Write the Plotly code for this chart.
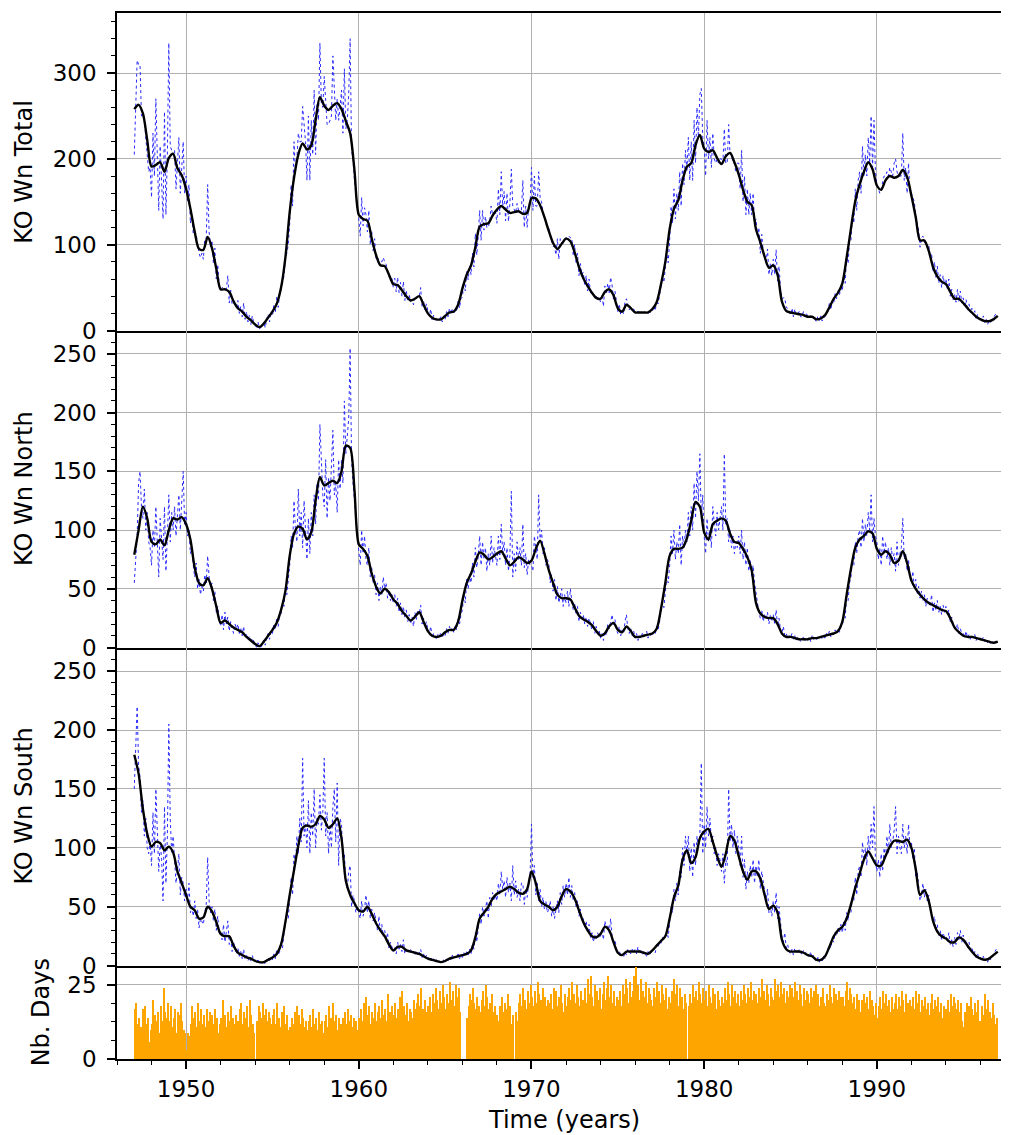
import plotly.graph_objects as go

START_YEAR = 1947

# ---- monthly raw values (Jan 1947 .. Dec 1996) ----
north_monthly = [
    55, 75, 95, 140, 150, 120, 110, 135, 100, 115, 90, 85,
    70, 100, 85, 120, 95, 60, 110, 90, 75, 120, 65, 95,
    130, 90, 115, 100, 120, 95, 110, 130, 100, 120, 150, 105,
    115, 95, 100, 80, 85, 70, 60, 72, 50, 58, 45, 52,
    48, 62, 55, 78, 60, 52, 55, 40, 48, 30, 35, 25,
    18, 28, 15, 30, 20, 26, 14, 22, 18, 12, 20, 16,
    20, 12, 16, 10, 18, 8, 12, 6, 10, 4, 8, 5,
    2, 0, 4, 1, 0, 3, 6, 2, 8, 12, 7, 14,
    12, 20, 15, 25, 18, 30, 28, 40, 35, 50, 45, 60,
    70, 95, 85, 125, 100, 90, 135, 95, 115, 85, 125, 100,
    75, 110, 80, 115, 95, 130, 105, 140, 125, 190, 150, 130,
    120, 160, 110, 145, 125, 150, 185, 130, 140, 115, 160, 135,
    160, 140, 210, 165, 180, 195, 255, 160, 140, 120, 110, 95,
    85, 70, 100, 80, 95, 75, 70, 85, 60, 68, 55, 62,
    45, 55, 40, 52, 45, 60, 50, 55, 42, 48, 40, 45,
    38, 45, 35, 42, 30, 38, 28, 35, 25, 32, 22, 28,
    20, 26, 18, 30, 24, 32, 28, 36, 20, 25, 18, 22,
    15, 12, 18, 8, 12, 10, 7, 11, 9, 13, 8, 12,
    10, 16, 12, 18, 14, 17, 13, 19, 15, 24, 20, 28,
    32, 45, 38, 58, 50, 62, 55, 72, 60, 85, 68, 78,
    95, 70, 90, 75, 85, 65, 80, 70, 95, 72, 85, 78,
    70, 95, 75, 105, 80, 90, 70, 85, 65, 78, 133, 60,
    80, 65, 90, 75, 85, 70, 105, 68, 80, 62, 75, 70,
    70, 65, 95, 85, 75, 130, 90, 100, 80, 85, 70, 75,
    72, 55, 62, 48, 58, 40, 52, 38, 45, 50, 35, 45,
    38, 48, 35, 50, 40, 32, 38, 28, 35, 22, 30, 25,
    28, 20, 26, 18, 25, 20, 15, 22, 12, 18, 10, 15,
    8, 12, 6, 14, 10, 20, 16, 22, 28, 18, 24, 15,
    12, 18, 10, 15, 12, 22, 28, 15, 12, 16, 10, 14,
    8, 12, 6, 10, 8, 12, 9, 11, 14, 8, 12, 10,
    10, 14, 12, 18, 15, 22, 30, 38, 34, 50, 60, 55,
    70, 95, 80, 100, 75, 90, 80, 105, 70, 95, 85, 100,
    90, 115, 95, 120, 100, 140, 110, 150, 125, 165, 110, 130,
    95, 80, 110, 90, 100, 85, 120, 105, 95, 115, 100, 110,
    120, 100, 165, 105, 110, 90, 100, 85, 95, 80, 90, 85,
    95, 80, 100, 75, 90, 70, 85, 65, 75, 60, 70, 55,
    45, 35, 30, 25, 32, 22, 28, 24, 30, 20, 28, 22,
    28, 20, 32, 18, 25, 15, 12, 18, 10, 12, 8, 10,
    8, 12, 7, 10, 6, 9, 8, 5, 7, 9, 6, 8,
    6, 9, 5, 10, 7, 8, 6, 10, 8, 11, 7, 9,
    8, 12, 10, 14, 9, 12, 11, 15, 12, 16, 13, 18,
    18, 28, 25, 45, 40, 55, 60, 75, 70, 90, 80, 95,
    100, 85, 110, 90, 105, 95, 115, 100, 130, 90, 110, 95,
    90, 75, 85, 70, 95, 80, 90, 75, 85, 70, 85, 75,
    80, 65, 90, 70, 80, 85, 110, 75, 80, 65, 75, 60,
    55, 65, 50, 58, 45, 52, 42, 48, 40, 45, 35, 42,
    40, 35, 45, 30, 38, 32, 40, 30, 35, 28, 36, 30,
    35, 28, 32, 22, 26, 20, 18, 15, 20, 12, 16, 12,
    12, 9, 14, 8, 11, 7, 10, 8, 11, 6, 9, 7,
    8, 6, 9, 5, 7, 4, 6, 3, 5, 4, 6, 5,
]

south_monthly = [
    150, 185, 220, 170, 160, 130, 140, 110, 125, 100, 95, 105,
    85, 130, 95, 150, 120, 80, 105, 90, 55, 135, 70, 110,
    205, 125, 95, 110, 90, 70, 80, 95, 60, 75, 70, 55,
    65, 55, 70, 45, 50, 42, 55, 40, 48, 32, 40, 38,
    35, 45, 52, 92, 55, 45, 50, 38, 48, 30, 42, 28,
    30, 22, 35, 20, 28, 38, 18, 25, 12, 20, 15, 10,
    15, 8, 12, 6, 14, 5, 10, 4, 8, 3, 9, 4,
    5, 2, 6, 1, 3, 2, 4, 1, 5, 7, 3, 8,
    5, 10, 6, 14, 9, 12, 20, 15, 28, 35, 45, 40,
    55, 75, 60, 95, 85, 110, 95, 125, 105, 176, 110, 120,
    100, 140, 95, 130, 110, 150, 100, 125, 120, 145, 115, 130,
    176, 110, 130, 95, 120, 100, 135, 150, 105, 155, 85, 125,
    120, 90, 95, 70, 65, 80, 85, 50, 60, 55, 45, 50,
    45, 40, 55, 42, 48, 60, 45, 55, 40, 48, 38, 45,
    38, 30, 42, 28, 35, 25, 30, 22, 28, 15, 20, 16,
    12, 16, 10, 20, 14, 18, 12, 22, 10, 15, 12, 14,
    14, 10, 12, 9, 13, 8, 11, 14, 7, 10, 6, 9,
    8, 5, 7, 4, 6, 3, 5, 2, 4, 3, 2, 5,
    3, 6, 4, 8, 5, 9, 6, 8, 7, 10, 6, 9,
    7, 11, 8, 12, 9, 14, 10, 18, 14, 28, 20, 32,
    45, 35, 50, 42, 48, 55, 40, 58, 50, 62, 55, 60,
    55, 70, 60, 80, 65, 72, 58, 75, 62, 70, 55, 85,
    60, 72, 58, 65, 55, 70, 70, 52, 65, 58, 70, 75,
    120, 75, 85, 60, 70, 55, 65, 50, 58, 48, 55, 45,
    48, 55, 42, 50, 40, 48, 55, 45, 62, 52, 68, 58,
    70, 60, 75, 58, 68, 55, 62, 50, 55, 42, 48, 40,
    40, 32, 38, 28, 35, 24, 28, 20, 26, 22, 28, 24,
    25, 30, 22, 38, 32, 35, 28, 40, 25, 18, 22, 15,
    10, 13, 8, 10, 7, 12, 9, 14, 12, 10, 14, 11,
    14, 10, 16, 11, 13, 9, 12, 10, 8, 12, 9, 11,
    12, 15, 11, 18, 16, 20, 19, 24, 22, 26, 30, 24,
    35, 50, 45, 65, 55, 70, 60, 80, 75, 100, 85, 110,
    95, 110, 80, 100, 75, 105, 85, 110, 100, 110, 172, 95,
    120, 100, 135, 110, 125, 105, 110, 95, 100, 85, 95, 90,
    80, 95, 70, 90, 85, 150, 105, 120, 100, 115, 95, 110,
    100, 85, 110, 75, 90, 65, 80, 70, 85, 75, 90, 70,
    85, 75, 90, 65, 80, 70, 60, 55, 65, 45, 50, 42,
    55, 45, 62, 40, 50, 35, 25, 20, 28, 15, 18, 12,
    10, 14, 9, 15, 12, 10, 14, 11, 9, 13, 10, 12,
    10, 7, 12, 6, 9, 5, 4, 7, 3, 6, 4, 8,
    6, 10, 12, 18, 15, 22, 20, 28, 25, 32, 28, 35,
    28, 38, 30, 45, 38, 50, 45, 60, 55, 75, 60, 80,
    85, 75, 105, 90, 100, 85, 110, 95, 120, 100, 135, 90,
    80, 90, 75, 95, 80, 100, 90, 110, 95, 120, 100, 105,
    115, 135, 95, 110, 100, 95, 120, 100, 110, 95, 120, 100,
    105, 90, 100, 75, 80, 65, 55, 60, 70, 58, 65, 55,
    60, 50, 45, 38, 42, 30, 35, 25, 30, 22, 28, 24,
    25, 20, 28, 18, 22, 16, 24, 18, 28, 22, 30, 20,
    26, 18, 22, 15, 20, 14, 16, 10, 12, 7, 10, 6,
    7, 5, 8, 4, 6, 3, 7, 5, 8, 10, 12, 14,
]

days_monthly = [
    17, 19, 12, 14, 11, 9, 17, 18, 12, 14, 6, 10,
    12, 20, 15, 13, 16, 9, 18, 13, 24, 16, 14, 19,
    13, 18, 11, 14, 17, 9, 16, 15, 19, 13, 10, 9,
    3, 9, 8, 12, 18, 14, 16, 11, 19, 13, 17, 12,
    15, 11, 17, 13, 16, 10, 15, 12, 17, 14, 9, 12,
    14, 20, 12, 15, 11, 16, 13, 18, 14, 12, 15, 10,
    13, 17, 19, 12, 16, 14, 18, 11, 20, 15, 12, 9,
    0, 13, 18, 16, 14, 19, 15, 17, 13, 16, 14, 12,
    15, 17, 12, 19, 14, 11, 16, 13, 18, 12, 15, 10,
    11, 14, 12, 16, 10, 18, 15, 12, 17, 14, 11, 13,
    10, 13, 15, 11, 17, 12, 14, 10, 16, 12, 13, 9,
    13, 15, 11, 18, 14, 12, 19, 13, 15, 10, 14, 12,
    11, 14, 16, 12, 17, 13, 15, 11, 14, 12, 13, 10,
    14, 17, 13, 19, 16, 21, 15, 18, 12, 16, 14, 19,
    13, 16, 18, 14, 20, 15, 17, 13, 22, 16, 14, 18,
    15, 19, 14, 17, 21, 16, 23, 18, 15, 19, 13, 17,
    16, 14, 20, 17, 19, 22, 18, 24, 17, 15, 20, 16,
    18, 21, 16, 22, 19, 24, 20, 17, 23, 19, 25, 21,
    17, 22, 19, 26, 20, 23, 18, 25, 21, 24, 16, 0,
    0, 0, 0, 14, 18, 22, 20, 24, 19, 17, 21, 18,
    16, 20, 23, 18, 25, 21, 17, 19, 22, 16, 18, 14,
    15, 13, 18, 21, 16, 19, 17, 22, 14, 18, 12, 15,
    0, 16, 13, 19, 22, 18, 24, 20, 17, 23, 19, 25,
    21, 18, 23, 19, 26, 22, 20, 17, 24, 21, 18, 20,
    19, 22, 17, 24, 20, 23, 18, 21, 25, 19, 16, 22,
    18, 21, 24, 20, 26, 22, 19, 25, 21, 18, 23, 20,
    20, 24, 19, 27, 22, 28, 21, 18, 25, 23, 20, 24,
    17, 22, 26, 20, 24, 28, 21, 25, 19, 23, 18, 21,
    20, 23, 18, 25, 22, 27, 24, 19, 26, 21, 23, 28,
    31, 22, 25, 20, 27, 23, 21, 26, 19, 24, 22, 20,
    18, 24, 21, 26, 23, 19, 25, 22, 20, 24, 17, 21,
    19, 23, 20, 27, 22, 25, 18, 24, 21, 17, 22, 19,
    0, 18, 22, 19, 25, 21, 23, 20, 26, 22, 19, 24,
    20, 23, 18, 25, 21, 19, 24, 22, 17, 23, 20, 18,
    21, 19, 24, 20, 26, 22, 18, 25, 21, 23, 19, 22,
    18, 23, 20, 25, 22, 19, 24, 21, 26, 20, 23, 18,
    22, 19, 24, 21, 27, 23, 20, 25, 22, 18, 24, 21,
    20, 27, 23, 25, 21, 26, 22, 24, 19, 23, 21, 25,
    19, 24, 21, 26, 23, 20, 25, 22, 18, 24, 20, 23,
    22, 19, 24, 21, 23, 25, 20, 22, 18, 21, 24, 19,
    18, 22, 20, 25, 21, 19, 24, 22, 20, 23, 19, 21,
    21, 18, 23, 26, 20, 24, 22, 19, 21, 17, 22, 20,
    16, 20, 18, 22, 19, 21, 17, 23, 20, 18, 15, 19,
    14, 18, 21, 17, 23, 19, 22, 18, 20, 16, 21, 17,
    19, 22, 17, 21, 18, 23, 20, 16, 22, 19, 15, 20,
    18, 21, 17, 23, 19, 22, 16, 20, 18, 21, 17, 19,
    15, 19, 22, 17, 20, 18, 21, 16, 19, 14, 18, 15,
    17, 20, 16, 22, 18, 21, 19, 17, 20, 16, 19, 13,
    11, 16, 19, 14, 18, 21, 17, 15, 19, 16, 20, 13,
    12, 18, 15, 22, 17, 20, 16, 14, 19, 15, 12, 14,
]

# ---- smoothed values, quarterly (1947.00 .. 1997.00) ----
north_smooth = [
    79, 100, 120, 110, 90, 88, 92, 87, 100, 110, 109, 111,
    105, 92, 68, 55, 53, 59, 50, 35, 21, 23, 20, 17,
    15, 13, 9, 6, 3, 1, 5, 10, 15, 21, 32, 48,
    78, 97, 103, 101, 92, 98, 125, 145, 138, 140, 142, 140,
    150, 172, 170, 134, 88, 84, 78, 63, 52, 46, 50, 47,
    41, 37, 31, 27, 23, 26, 30, 22, 14, 10, 9, 10,
    13, 15, 15, 22, 40, 55, 63, 73, 81, 79, 75, 77,
    80, 82, 76, 70, 73, 77, 75, 72, 74, 84, 91, 80,
    66, 55, 45, 42, 42, 41, 34, 27, 24, 22, 19, 14,
    10, 12, 18, 21, 15, 13, 18, 14, 9, 9, 10, 11,
    12, 16, 33, 55, 78, 84, 84, 85, 93, 108, 124, 120,
    98, 92, 105, 108, 110, 108, 97, 90, 89, 84, 77, 66,
    38, 29, 26, 25, 25, 20, 12, 9, 9, 8, 7, 7,
    7, 8, 8, 9, 10, 11, 12, 14, 22, 45, 67, 85,
    92, 95, 99, 97, 84, 79, 82, 79, 72, 74, 82, 72,
    57, 50, 45, 41, 38, 36, 34, 32, 31, 25, 17, 13,
    10, 9, 9, 8, 7, 6, 5, 4, 5,
]

south_smooth = [
    179, 163, 133, 112, 101, 105, 104, 98, 101, 96, 80, 70,
    60, 50, 47, 40, 41, 50, 46, 37, 27, 25, 25, 17,
    11, 9, 7, 6, 4, 3, 3, 5, 7, 10, 18, 37,
    60, 81, 102, 117, 119, 118, 120, 127, 124, 117, 120, 125,
    108, 72, 60, 53, 47, 46, 50, 44, 36, 30, 25, 18,
    13, 16, 16, 13, 12, 11, 10, 8, 6, 5, 4, 3,
    4, 6, 7, 8, 9, 10, 13, 24, 40, 45, 50, 57,
    61, 63, 65, 67, 65, 62, 61, 65, 80, 70, 55, 52,
    50, 47, 50, 59, 65, 63, 57, 47, 37, 30, 25, 24,
    27, 33, 30, 20, 11, 9, 12, 12, 12, 12, 11, 10,
    13, 17, 21, 25, 40, 58, 68, 90, 98, 87, 92, 108,
    114, 116, 105, 93, 84, 95, 110, 106, 93, 80, 73, 80,
    80, 74, 60, 48, 51, 45, 22, 14, 12, 12, 12, 11,
    9, 8, 5, 5, 8, 16, 25, 30, 33, 40, 52, 66,
    78, 90, 97, 91, 85, 85, 93, 101, 106, 106, 105, 107,
    100, 82, 60, 64, 55, 38, 29, 25, 23, 20, 20, 24,
    22, 17, 12, 8, 6, 5, 6, 9, 12,
]

# KO total Wolf number is the sum of the two hemispheres
total_monthly = [n + s for n, s in zip(north_monthly, south_monthly)]
total_smooth = [n + s for n, s in zip(north_smooth, south_smooth)]

t_month = [START_YEAR + i / 12 for i in range(len(north_monthly))]
t_bar = [START_YEAR + i / 12 + 1 / 24 for i in range(len(days_monthly))]
t_smooth = [START_YEAR + i / 4 for i in range(len(north_smooth))]

panels = [
    (total_monthly, total_smooth, [0, 370], 100, 20),
    (north_monthly, north_smooth, [0, 270], 50, 10),
    (south_monthly, south_smooth, [0, 270], 50, 10),
]
y_titles = ["KO Wn Total", "KO Wn North", "KO Wn South", "Nb. Days"]

# The page puts the figure 8 px in from the top-left corner of the window.
OFF = 8
W, H = 1009 - OFF, 1135 - OFF
# target positions in window pixels
PL, PT, PR, PB = 117, 13, 1009, 1059
ML, MT = PL - OFF, PT - OFF
MR = (W + OFF) - PR
MB = (H + OFF) - PB
plot_h = PB - PT
plot_w = PR - PL

def py(px):  # window pixel y -> paper y
    return (PB - px) / plot_h

def pxx(px):  # window pixel x -> paper x
    return (px - PL) / plot_w

bounds = [13, 330.5, 647.5, 965.7, 1059]
domains = [[py(bounds[i + 1]), py(bounds[i]) if i > 0 else 1.0] for i in range(4)]

FONT = "DejaVu Sans"
XR = [1946.0, 1946.0 + plot_w / 17.27]
fig = go.Figure()

for k, (raw, smo, yr, dt, mdt) in enumerate(panels):
    ax = "" if k == 0 else str(k + 1)
    fig.add_trace(go.Scatter(x=t_month, y=raw, mode="lines", xaxis="x" + ax, yaxis="y" + ax,
                             line=dict(color="rgb(40,40,255)", width=1, dash="dot"),
                             showlegend=False, hoverinfo="skip"))
    fig.add_trace(go.Scatter(x=t_smooth, y=smo, mode="lines", xaxis="x" + ax, yaxis="y" + ax,
                             line=dict(color="black", width=2.4, shape="spline", smoothing=0.8),
                             showlegend=False, hoverinfo="skip"))

fig.add_trace(go.Bar(x=t_bar, y=days_monthly, width=1 / 12, xaxis="x4", yaxis="y4",
                     marker=dict(color="#FFA500", line=dict(width=0)),
                     showlegend=False, hoverinfo="skip"))

layout = dict(
    width=W, height=H,
    margin=dict(l=ML, r=MR, t=MT, b=MB, autoexpand=False),
    paper_bgcolor="white", plot_bgcolor="white",
    font=dict(family=FONT, size=23, color="black"),
    bargap=0, showlegend=False,
)

grid = "#b0b0b0"
for k in range(4):
    ax = "" if k == 0 else str(k + 1)
    layout["xaxis" + ax] = dict(
        domain=[0, 1], range=XR, anchor="y" + ax,
        showline=True, linecolor="black", linewidth=2, mirror=(k == 0),
        showgrid=True, gridcolor=grid, gridwidth=1.3,
        tick0=1950, dtick=10, zeroline=False,
        ticks="outside" if k == 3 else "", ticklen=8, tickwidth=1.5, tickcolor="black",
        showticklabels=(k == 3), tickfont=dict(size=23, family=FONT, color="black"),
        ticklabelstandoff=0,
        minor=dict(dtick=2, tick0=1946, ticks="outside" if k == 3 else "", ticklen=4,
                   tickwidth=1.2, tickcolor="black", showgrid=False),
    )
    if k < 3:
        yr, dt, mdt = panels[k][2], panels[k][3], panels[k][4]
    else:
        yr, dt, mdt = [0, 31.5], 25, 6.25
    layout["yaxis" + ax] = dict(
        domain=domains[k], range=yr, anchor="x" + ax,
        showline=True, linecolor="black", linewidth=1.6, mirror=False,
        showgrid=True, gridcolor=grid, gridwidth=1.3, zeroline=False,
        tick0=0, dtick=dt, ticks="outside", ticklen=8, tickwidth=1.5, tickcolor="black",
        tickfont=dict(size=23, family=FONT, color="black"), ticklabelstandoff=6,
        minor=dict(dtick=mdt, tick0=0, ticks="outside", ticklen=4, tickwidth=1.2,
                   tickcolor="black", showgrid=False),
    )

ann = []
title_x = [24, 24, 24, 41]
for k in range(4):
    yc = (bounds[k] + bounds[k + 1]) / 2
    ann.append(dict(text=y_titles[k], xref="paper", yref="paper",
                    x=pxx(title_x[k]), y=py(yc), xanchor="center", yanchor="middle",
                    textangle=-90, showarrow=False,
                    font=dict(size=24, family=FONT, color="black")))
ann.append(dict(text="Time (years)", xref="paper", yref="paper",
                x=pxx(564), y=py(1120), xanchor="center", yanchor="middle",
                showarrow=False, font=dict(size=24, family=FONT, color="black")))
layout["annotations"] = ann

fig.update_layout(**layout)
fig.write_html("out.html")
